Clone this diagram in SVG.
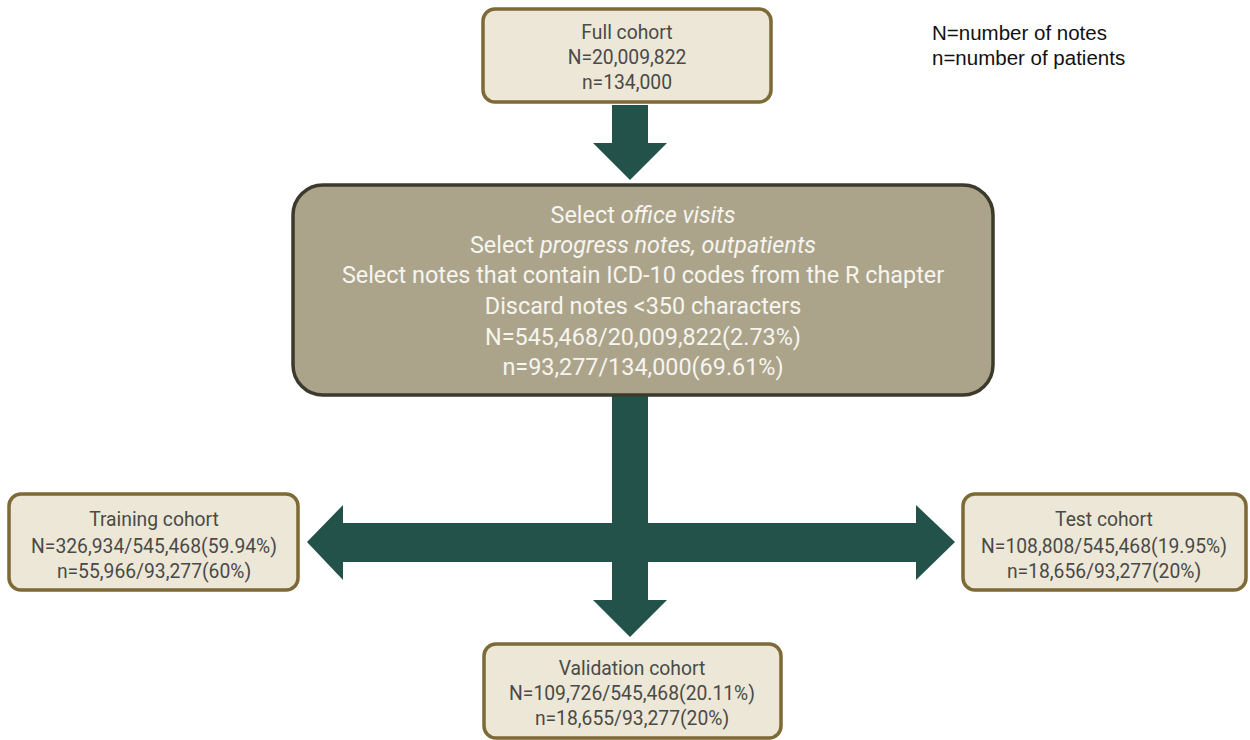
<svg xmlns="http://www.w3.org/2000/svg" width="1250" height="740" viewBox="0 0 1250 740">
<style>
.light{fill:#ece7d6;stroke:#7d6a37;stroke-width:3.5}
.main{fill:#aba48b;stroke:#3b3a2d;stroke-width:3.5}
.arrow{fill:#22524a}
.lt{font-family:Roboto,"Liberation Sans",sans-serif;font-size:19.3px;fill:#4a4a48;text-anchor:middle;dominant-baseline:central}
.mt{font-family:Roboto,"Liberation Sans",sans-serif;font-size:23.4px;fill:#f7f5ef;text-anchor:middle;dominant-baseline:central}
.leg{font-family:"Liberation Sans",Arial,sans-serif;font-size:20.5px;fill:#111}
</style>
<rect width="1250" height="740" fill="#ffffff"/>
<g id="connectors">
<polygon class="arrow" points="612,105 648,105 648,143 667,143 630,180 593,143 612,143"/>
<polygon class="arrow" points="612,396 648,396 648,600 667,600 630,637 593,600 612,600"/>
<polygon class="arrow" points="343,523 612,523 612,562 343,562 343,580 307,542 343,505"/>
<polygon class="arrow" points="648,523 916,523 916,505 955,542 916,580 916,562 648,562"/>
</g>
<g id="full-cohort">
<rect class="light" x="483" y="9" width="288" height="93" rx="12"/>
<text class="lt" x="627" y="32">Full cohort</text>
<text class="lt" x="627" y="57">N=20,009,822</text>
<text class="lt" x="627" y="82">n=134,000</text>
</g>
<g id="selection">
<rect class="main" x="293" y="185" width="700" height="210" rx="30"/>
<text class="mt" x="643" y="215">Select <tspan font-style="italic">office visits</tspan></text>
<text class="mt" x="643" y="245">Select <tspan font-style="italic">progress notes, outpatients</tspan></text>
<text class="mt" x="643" y="275">Select notes that contain ICD-10 codes from the R chapter</text>
<text class="mt" x="643" y="306">Discard notes &lt;350 characters</text>
<text class="mt" x="643" y="337">N=545,468/20,009,822(2.73%)</text>
<text class="mt" x="643" y="367">n=93,277/134,000(69.61%)</text>
</g>
<g id="training">
<rect class="light" x="9" y="494" width="289" height="96" rx="12"/>
<text class="lt" x="154" y="519">Training cohort</text>
<text class="lt" x="154" y="546">N=326,934/545,468(59.94%)</text>
<text class="lt" x="154" y="571">n=55,966/93,277(60%)</text>
</g>
<g id="test">
<rect class="light" x="963" y="494" width="283" height="96" rx="12"/>
<text class="lt" x="1104" y="519">Test cohort</text>
<text class="lt" x="1104" y="546">N=108,808/545,468(19.95%)</text>
<text class="lt" x="1104" y="571">n=18,656/93,277(20%)</text>
</g>
<g id="validation">
<rect class="light" x="484" y="644" width="297" height="94" rx="12"/>
<text class="lt" x="632" y="668">Validation cohort</text>
<text class="lt" x="632" y="693">N=109,726/545,468(20.11%)</text>
<text class="lt" x="632" y="718">n=18,655/93,277(20%)</text>
</g>
<g id="legend">
<text class="leg" x="932" y="40">N=number of notes</text>
<text class="leg" x="932" y="65">n=number of patients</text>
</g>
</svg>
